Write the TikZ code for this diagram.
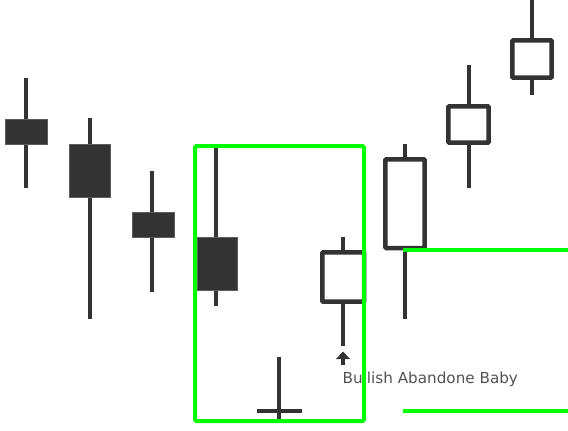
\documentclass[tikz,border=0pt]{standalone}
\usepackage{fontspec}
\setmainfont{DejaVu Sans}
\begin{document}
\begin{tikzpicture}[x=1pt,y=-1pt]
\definecolor{candle}{HTML}{333333}
\definecolor{hl}{HTML}{00FF00}
\tikzset{
  wick/.style={draw=candle,line width=4pt},
  solidbody/.style={fill=candle,draw=candle!80,line width=0.6pt},
  hollowbody/.style={draw=candle,line width=4.5pt,fill=white,rounded corners=1pt},
  greenline/.style={draw=hl,line width=4pt},
  label/.style={text=candle!85,font=\fontsize{15.2}{18}\selectfont,inner sep=0pt,anchor=base west}
}
\useasboundingbox (0,0) rectangle (568,431);
% candle 1
\draw[wick] (26,78) -- (26,188);
\filldraw[solidbody] (5,119) rectangle (47,144);
% candle 2
\draw[wick] (90,118) -- (90,319);
\filldraw[solidbody] (69,144) rectangle (110,197);
% candle 3
\draw[wick] (152,171) -- (152,292);
\filldraw[solidbody] (132,212) rectangle (174,237);
% candle 4
\draw[wick] (216,146) -- (216,306);
\filldraw[solidbody] (197,237) rectangle (237,290);
% doji
\draw[wick] (279,357) -- (279,420);
\draw[wick] (257,411) -- (302,411);
% candle 6 (hollow)
\draw[wick] (343,237) -- (343,346);
\draw[hollowbody] (322.3,252.3) rectangle (364,301.7);
% arrow
\draw[candle,line width=4pt] (343,365) -- (343,356);
\fill[candle] (336,359) -- (343,351.5) -- (350,359) -- cycle;
\node[label] (lbl) at (342.5,383) {Bullish Abandone Baby};
% green box
\draw[greenline,rounded corners=1.5pt] (195,146) rectangle (364,421);
% candle 8
\draw[wick] (405,144) -- (405,319);
\draw[hollowbody] (385.3,159.3) rectangle (424.7,248);
% candle 9
\draw[wick] (469,65) -- (469,188);
\draw[hollowbody] (448.3,106.3) rectangle (488.7,142.7);
% candle 10
\draw[wick] (532,0) -- (532,95);
\draw[hollowbody] (512.3,40.3) rectangle (551.7,77.7);
% green lines
\draw[greenline] (403,250) -- (568,250);
\draw[greenline] (403,411) -- (568,411);
\end{tikzpicture}
\end{document}
